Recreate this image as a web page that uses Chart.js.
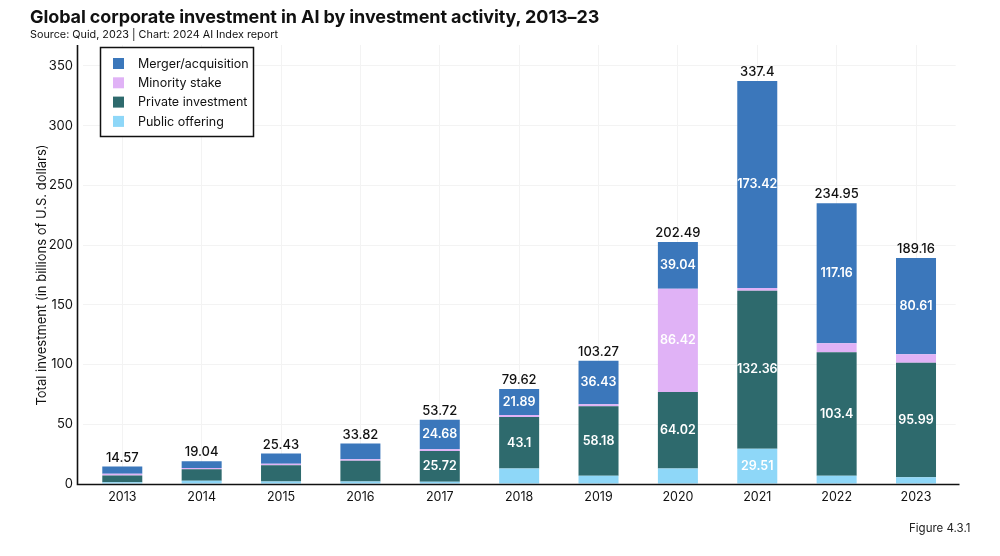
<!DOCTYPE html>
<html>
<head>
<meta charset="utf-8">
<script src="https://cdn.jsdelivr.net/npm/chart.js@4.4.1/dist/chart.umd.min.js"></script>
<style>
  html, body { margin:0; padding:0; background:#fff; }
  body { width:1000px; height:556px; position:relative; overflow:hidden; font-family: Inter, "Noto Sans", sans-serif; }
  #title { position:absolute; left:30px; top:6px; font-size:18px; font-weight:700; color:#111; white-space:nowrap; letter-spacing:-0.1px; }
  #sub { position:absolute; left:30px; top:28px; font-size:10.8px; color:#111; white-space:nowrap; }
  #fig { position:absolute; left:909px; top:521px; font-size:11.5px; color:#222; white-space:nowrap; }
  #wrap { position:absolute; left:0; top:0; width:1000px; height:556px; }
</style>
</head>
<body>
<div id="wrap"><canvas id="c" width="1000" height="556"></canvas></div>
<div id="title">Global corporate investment in AI by investment activity, 2013–23</div>
<div id="sub">Source: Quid, 2023 | Chart: 2024 AI Index report</div>
<div id="fig">Figure 4.3.1</div>
<script>
const years = ['2013','2014','2015','2016','2017','2018','2019','2020','2021','2022','2023'];
const publicOffering = [1.5, 2.8, 2.0, 2.0, 1.82, 12.9, 7.0, 13.01, 29.51, 6.97, 5.6];
const privateInvestment = [5.6, 9.5, 13.8, 17.5, 25.72, 43.1, 58.18, 64.02, 132.36, 103.4, 95.99];
const minorityStake = [1.5, 1.0, 1.2, 1.2, 1.5, 1.73, 1.66, 86.42, 2.11, 7.42, 6.96];
const mergerAcquisition = [5.97, 5.74, 8.43, 13.12, 24.68, 21.89, 36.43, 39.04, 173.42, 117.16, 80.61];
const totals = [14.57, 19.04, 25.43, 33.82, 53.72, 79.62, 103.27, 202.49, 337.4, 234.95, 189.16];
const yTicks = [0, 50, 100, 150, 200, 250, 300, 350];

const FONT = 'Inter, "Noto Sans", sans-serif';
const COLORS = {
  merger: '#3b77bb',
  minority: '#e0b2f6',
  private: '#2e6a6d',
  public: '#8ed7f8'
};

const labelPlugin = {
  id: 'customLabels',
  afterDatasetsDraw(chart) {
    const ctx = chart.ctx;
    ctx.save();
    ctx.textAlign = 'center';
    ctx.textBaseline = 'middle';
    ctx.font = '600 12.5px ' + FONT;
    ctx.fillStyle = '#ffffff';
    chart.data.datasets.forEach((ds, i) => {
      const meta = chart.getDatasetMeta(i);
      meta.data.forEach((bar, j) => {
        const v = ds.data[j];
        if (v < 20) return;
        ctx.fillText(String(v), bar.x, (bar.y + bar.base) / 2);
      });
    });
    const yScale = chart.scales.y;
    const xScale = chart.scales.x;
    ctx.fillStyle = '#111';
    ctx.font = '500 13px ' + FONT;
    totals.forEach((t, j) => {
      ctx.fillText(String(t), xScale.getPixelForValue(j), yScale.getPixelForValue(t) - 9);
    });
    ctx.restore();
  },
  afterDraw(chart) {
    const ctx = chart.ctx;
    const a = chart.chartArea;
    ctx.save();
    ctx.strokeStyle = '#111';
    ctx.lineWidth = 1.6;
    ctx.beginPath();
    ctx.moveTo(77.5, a.top);
    ctx.lineTo(77.5, a.bottom + 0.8);
    ctx.moveTo(76.7, a.bottom + 0.5);
    ctx.lineTo(959.5, a.bottom + 0.5);
    ctx.stroke();
    ctx.fillStyle = '#111';
    ctx.font = '13px ' + FONT;
    ctx.textAlign = 'center';
    ctx.textBaseline = 'middle';
    ctx.translate(42, 275);
    ctx.rotate(-Math.PI / 2);
    ctx.fillText('Total investment (in billions of U.S. dollars)', 0, 0);
    ctx.restore();

    ctx.save();
    ctx.fillStyle = '#fff';
    ctx.fillRect(100.5, 47.5, 153, 89);
    ctx.strokeStyle = '#111';
    ctx.lineWidth = 1.5;
    ctx.strokeRect(100.5, 47.5, 153, 89);
    const items = chart.data.datasets.slice().reverse();
    ctx.font = '12.5px ' + FONT;
    ctx.textBaseline = 'middle';
    ctx.textAlign = 'left';
    items.forEach((ds, k) => {
      const cy = 63.5 + k * 19.3;
      ctx.fillStyle = ds.backgroundColor;
      ctx.fillRect(113, cy - 5.5, 11, 11);
      ctx.fillStyle = '#111';
      ctx.fillText(ds.label, 138, cy + 0.5);
    });
    ctx.restore();
  }
};

new Chart(document.getElementById('c'), {
  type: 'bar',
  data: {
    labels: years,
    datasets: [
      { label: 'Public offering', data: publicOffering, backgroundColor: COLORS.public },
      { label: 'Private investment', data: privateInvestment, backgroundColor: COLORS.private },
      { label: 'Minority stake', data: minorityStake, backgroundColor: COLORS.minority },
      { label: 'Merger/acquisition', data: mergerAcquisition, backgroundColor: COLORS.merger }
    ].map(d => Object.assign(d, {
      borderWidth: 0,
      categoryPercentage: 1.0,
      barPercentage: 0.504
    }))
  },
  options: {
    responsive: false,
    animation: false,
    devicePixelRatio: 1,
    layout: { padding: { top: 45, right: 44.3, bottom: 42, left: 0 } },
    plugins: {
      legend: { display: false },
      tooltip: { enabled: false },
      title: { display: false }
    },
    scales: {
      x: {
        stacked: true,
        offset: true,
        grid: { offset: false, color: '#f3f3f3', lineWidth: 1, drawTicks: false },
        border: { display: false },
        ticks: { color: '#111', font: { family: FONT, size: 12.5 }, padding: 6, maxRotation: 0 },
        afterFit(scale) { scale.height = 30; }
      },
      y: {
        stacked: true,
        min: 0,
        max: 367.5,
        grid: { color: '#f3f3f3', lineWidth: 1, drawTicks: false },
        border: { display: false },
        afterBuildTicks(scale) { scale.ticks = yTicks.map(v => ({ value: v })); },
        ticks: { color: '#111', font: { family: FONT, size: 13 }, padding: 9.6 },
        afterFit(scale) { scale.width = 82.6; }
      }
    }
  },
  plugins: [labelPlugin]
});
</script>
</body>
</html>
